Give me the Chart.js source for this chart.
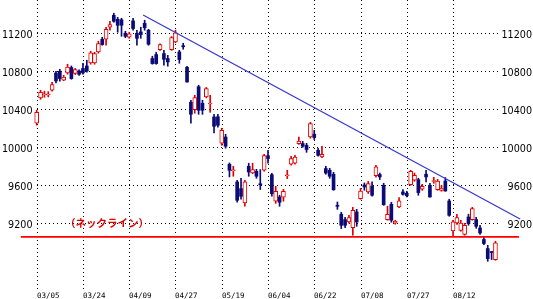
<!DOCTYPE html>
<html lang="ja">
<head>
<meta charset="UTF-8">
<title>日足チャート</title>
<script src="https://cdn.jsdelivr.net/npm/chart.js"></script>
<style>
  html, body { margin: 0; padding: 0; background: #fff; }
  #wrap { width: 533px; height: 299px; }
</style>
</head>
<body>
<div id="wrap"><canvas id="chart" width="533" height="299"></canvas></div>
<script>
// daily candles, one per trading day (index 0 = 03/05)
var opens = [10253,10519,10553,10550,10600,10782,10800,10705,10782,10839,10776,10803,10829,10856,10888,10888,11003,11137,11137,11263,
  11389,11347,11342,11200,11158,11330,11200,11214,11305,11232,10934,10976,11028,10986,10934,11028,11109,11003,11068,10842,
  10474,10397,10637,10463,10530,10455,10319,10321,10042,10108,9821,9753,9635,9565,9414,9800,9729,9747,9616,9758,
  9911,9711,9432,9477,9474,9700,9821,9832,10039,10039,10021,10108,10137,9968,9898,9776,9758,9716,9386,9295,
  9239,9214,9155,9319,9460,9603,9530,9590,9700,9713,9600,9239,9400,9200,9372,9530,9516,9607,9653,9658,
  9558,9716,9600,9640,9555,9547,9645,9435,9119,9203,9126,9084,9266,9239,9239,9151,9029,8934,8898,8818];
var highs = [10390,10600,10590,10585,10684,10800,10821,10758,10874,10856,10830,10815,10884,10916,11011,11000,11116,11158,11263,11326,
  11411,11368,11358,11221,11211,11358,11232,11263,11337,11242,10958,11000,11090,11021,10968,11165,11232,11021,11095,10853,
  10495,10547,10653,10495,10630,10547,10347,10347,10200,10137,9835,9800,9653,9674,9653,9832,9832,9768,9765,9925,
  9968,9726,9589,9495,9558,9758,9905,9915,10108,10063,10042,10263,10179,9990,10011,9800,9779,9737,9424,9316,
  9263,9284,9368,9347,9568,9624,9642,9635,9811,9729,9621,9379,9421,9232,9471,9555,9537,9758,9729,9674,
  9610,9758,9621,9684,9663,9600,9681,9453,9232,9295,9232,9200,9295,9368,9263,9179,9056,8968,8904,9011];
var lows = [10232,10505,10526,10530,10590,10677,10695,10700,10769,10716,10765,10755,10769,10790,10874,10874,10990,11074,11074,11232,
  11316,11211,11168,11153,11147,11232,11074,11147,11232,11074,10874,10874,11020,10863,10853,11020,11100,10884,11032,10684,
  10253,10358,10347,10347,10520,10368,10151,10211,10021,9990,9688,9695,9421,9453,9379,9695,9721,9674,9555,9748,
  9832,9484,9410,9379,9432,9670,9811,9821,10029,10000,9947,10095,10081,9905,9891,9716,9674,9547,9347,9144,
  9155,9200,9074,9168,9453,9547,9513,9484,9684,9660,9389,9232,9211,9190,9363,9495,9477,9600,9642,9495,
  9547,9635,9474,9621,9547,9537,9537,9274,9063,9189,9116,9074,9179,9232,9147,9084,8976,8800,8818,8811];
var closes = [10369,10579,10563,10558,10660,10698,10723,10740,10845,10723,10818,10768,10782,10803,10993,10986,11092,11081,11242,11292,
  11326,11284,11284,11168,11195,11250,11147,11186,11258,11084,10881,10881,11081,10926,10898,11155,11205,10923,11058,10687,
  10348,10523,10390,10390,10618,10465,10221,10232,10179,10011,9758,9763,9442,9484,9635,9740,9765,9695,9605,9913,
  9881,9511,9537,9421,9537,9710,9881,9898,10066,10011,9976,10249,10102,9916,9926,9729,9695,9553,9379,9179,
  9179,9260,9337,9214,9540,9582,9618,9495,9793,9688,9395,9295,9232,9224,9435,9505,9490,9747,9705,9523,
  9590,9688,9477,9650,9645,9571,9540,9284,9214,9260,9203,9179,9197,9355,9168,9098,8987,8828,8892,8993];

var xLabels = ["03/05", "03/24", "04/09", "04/27", "05/19", "06/04", "06/22", "07/08", "07/27", "08/12"];
var xLabelIdx = [0, 12, 24, 36, 48, 60, 72, 84, 96, 108];
var yTicks = [9200, 9600, 10000, 10400, 10800, 11200];

// resistance line and neckline (index, value)
var trendX = [27.6, 125.4];
var trendY = [11392, 9245];
var neckX = [-4.1, 125.1];
var neckY = [9056, 9056];
var neckText = "（ネックライン）";

var RED = "#e00000";
var NAVY = "#0a0a78";

var wicks = [], wickColors = [], upBodies = [], downBodies = [];
for (var i = 0; i < opens.length; i++) {
  var up = closes[i] >= opens[i];
  wicks.push({ x: i, y: [lows[i], highs[i]] });
  wickColors.push(up ? RED : NAVY);
  if (up) upBodies.push({ x: i, y: [opens[i], closes[i]] });
  else downBodies.push({ x: i, y: [closes[i], opens[i]] });
}

var gridPlugin = {
  id: "dotGrid",
  beforeDatasetsDraw: function (chart) {
    var ctx = chart.ctx, xs = chart.scales.x, ys = chart.scales.y;
    var left = Math.round(xs.getPixelForValue(xLabelIdx[0]));
    ctx.save();
    ctx.strokeStyle = "#000";
    ctx.lineWidth = 1;
    ctx.setLineDash([1, 3]);
    yTicks.forEach(function (v) {
      var py = Math.round(ys.getPixelForValue(v)) + 0.5;
      ctx.beginPath();
      ctx.moveTo(left, py);
      ctx.lineTo(499, py);
      ctx.stroke();
    });
    xLabelIdx.forEach(function (idx) {
      var px = Math.round(xs.getPixelForValue(idx)) + 0.5;
      ctx.beginPath();
      ctx.moveTo(px, 0);
      ctx.lineTo(px, 290);
      ctx.stroke();
    });
    ctx.restore();
  },
  afterDraw: function (chart) {
    var ctx = chart.ctx, xs = chart.scales.x, ys = chart.scales.y;
    ctx.save();
    ctx.fillStyle = "#000";
    ctx.font = '9.6px "DejaVu Sans"';
    ctx.textBaseline = "alphabetic";
    yTicks.forEach(function (v) {
      var py = Math.round(ys.getPixelForValue(v)) + 4.5;
      ctx.textAlign = "right";
      ctx.fillText(String(v), 32.5, py);
      ctx.fillText(String(v), 532, py);
    });
    ctx.font = '7.5px "DejaVu Sans Mono"';
    ctx.textAlign = "left";
    xLabels.forEach(function (t, k) {
      ctx.fillText(t, Math.round(xs.getPixelForValue(xLabelIdx[k])), 298);
    });
    ctx.fillStyle = RED;
    ctx.font = 'bold 10.5px "Noto Sans CJK JP"';
    ctx.textAlign = "center";
    ctx.fillText(neckText, 107, ys.getPixelForValue(neckY[0]) - 10);
    ctx.restore();
  }
};

new Chart(document.getElementById("chart"), {
  type: "bar",
  data: {
    datasets: [
      {
        type: "line",
        data: [{ x: trendX[0], y: trendY[0] }, { x: trendX[1], y: trendY[1] }],
        borderColor: "#3838d0",
        borderWidth: 1.3,
        pointRadius: 0,
        order: 0
      },
      {
        type: "line",
        data: [{ x: neckX[0], y: neckY[0] }, { x: neckX[1], y: neckY[1] }],
        borderColor: "#ff0000",
        borderWidth: 1.8,
        pointRadius: 0,
        order: 0
      },
      {
        data: upBodies,
        backgroundColor: "#fff",
        borderColor: RED,
        borderWidth: 1,
        borderSkipped: false,
        barThickness: 4,
        minBarLength: 1,
        grouped: false,
        order: 1
      },
      {
        data: downBodies,
        backgroundColor: NAVY,
        borderColor: NAVY,
        borderWidth: 0,
        barThickness: 3,
        minBarLength: 1,
        grouped: false,
        order: 1
      },
      {
        data: wicks,
        backgroundColor: wickColors,
        borderWidth: 0,
        barThickness: 1,
        grouped: false,
        order: 2
      }
    ]
  },
  options: {
    responsive: false,
    animation: false,
    layout: { padding: 0 },
    plugins: { legend: { display: false }, tooltip: { enabled: false } },
    scales: {
      x: { type: "linear", min: -9.52, max: 128.74, offset: false, display: false },
      y: { min: 8403, max: 11550, display: false }
    }
  },
  plugins: [gridPlugin]
});
</script>
</body>
</html>
